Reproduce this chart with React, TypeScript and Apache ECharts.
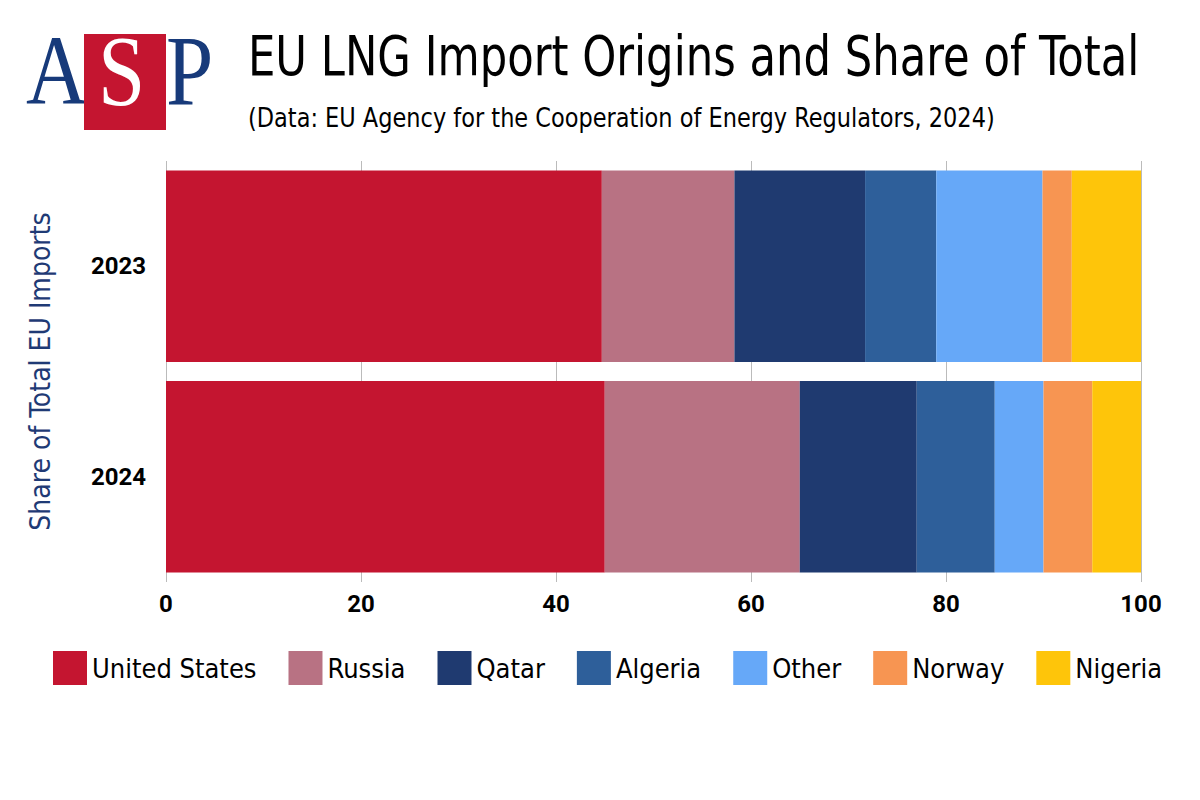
import React, { useEffect, useRef } from "react";
import * as echarts from "echarts";

const years = ["2023", "2024"];
const origins = ["United States", "Russia", "Qatar", "Algeria", "Other", "Norway", "Nigeria"];
const colors = ["#c41530", "#b87283", "#1f3a70", "#2e5f9a", "#66a8f8", "#f79552", "#fec50a"];
const shares2023 = [44.7, 13.6, 13.4, 7.3, 10.9, 3.0, 7.1];
const shares2024 = [45.0, 20.0, 12.0, 8.0, 5.0, 5.0, 5.0];

const narrow = "'Liberation Sans Narrow', 'DejaVu Sans Condensed', Roboto, sans-serif";

export default function App() {
  const chartRef = useRef<HTMLDivElement>(null);

  useEffect(() => {
    document.body.style.margin = "0";
    if (!chartRef.current) return;
    const chart = echarts.init(chartRef.current, null, { renderer: "svg" });

    const option = {
      animation: false,
      backgroundColor: "#ffffff",
      graphic: [
        { type: "text", x: 26, y: 20, scaleX: 0.85, style: { text: "A", font: "100px 'Liberation Serif', serif", fill: "#173a7a" } },
        { type: "rect", shape: { x: 84, y: 34, width: 82, height: 96 }, style: { fill: "#c41530" } },
        { type: "text", x: 98, y: 20, scaleX: 0.85, style: { text: "S", font: "100px 'Liberation Serif', serif", fill: "#ffffff" } },
        { type: "text", x: 166, y: 20, scaleX: 0.85, style: { text: "P", font: "100px 'Liberation Serif', serif", fill: "#173a7a" } },
        { type: "text", x: 248, y: 28, scaleX: 0.86, style: { text: "EU LNG Import Origins and Share of Total", font: `56px ${narrow}`, fill: "#000" } },
        { type: "text", x: 248, y: 104, scaleX: 0.925, style: { text: "(Data: EU Agency for the Cooperation of Energy Regulators, 2024)", font: `27px ${narrow}`, fill: "#000" } },
      ],
      legend: {
        left: 48,
        top: 646,
        itemWidth: 34,
        itemHeight: 34,
        itemGap: 32,
        icon: "rect",
        textStyle: { fontFamily: narrow, fontSize: 27, color: "#000" },
        data: origins,
      },
      grid: { left: 166, right: 59, top: 161, bottom: 218 },
      xAxis: {
        type: "value",
        min: 0,
        max: 100,
        interval: 20,
        axisLine: { show: false },
        axisTick: { show: false },
        axisLabel: { fontFamily: "Roboto, sans-serif", fontWeight: "bold", fontSize: 24, color: "#000", margin: 10 },
        splitLine: { lineStyle: { color: "#bbbbbb" } },
      },
      yAxis: {
        type: "category",
        data: years,
        inverse: true,
        name: "Share of Total EU Imports",
        nameLocation: "middle",
        nameGap: 112,
        nameTextStyle: { fontFamily: narrow, fontSize: 28, color: "#1f3a75" },
        axisLine: { show: false },
        axisTick: { show: false },
        axisLabel: { fontFamily: "Roboto, sans-serif", fontWeight: "bold", fontSize: 24, color: "#000", margin: 20 },
      },
      series: origins.map((name, i) => ({
        name,
        type: "bar",
        stack: "total",
        barCategoryGap: "9%",
        itemStyle: { color: colors[i] },
        data: [shares2023[i], shares2024[i]],
      })),
    };

    chart.setOption(option);
    return () => chart.dispose();
  }, []);

  return <div ref={chartRef} style={{ width: 1200, height: 800 }} />;
}
